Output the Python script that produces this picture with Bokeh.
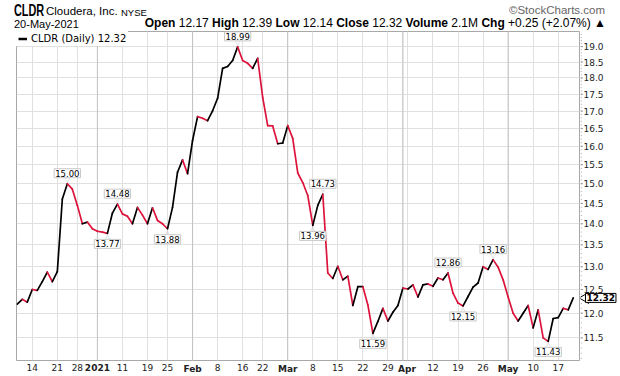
import math
import pandas as pd
from bokeh.plotting import figure
from bokeh.models import (Range1d, FixedTicker, Label, Span, Div, Legend, LegendItem,
                          ColumnDataSource)
from bokeh.layouts import column, row
from bokeh.embed import file_html
from bokeh.resources import INLINE
from bokeh.core.properties import value

# ---------------- data ----------------
holidays = ["2020-12-25", "2021-01-01", "2021-01-18", "2021-02-15", "2021-04-02"]
dates = [d for d in pd.bdate_range("2020-12-09", "2021-05-20")
         if d.strftime("%Y-%m-%d") not in holidays]

close = [12.19, 12.29, 12.23, 12.50, 12.48, 12.67, 12.88, 12.67, 12.89, 14.61,
         15.00, 14.86, 14.45, 14.00, 14.04, 13.88, 13.82, 13.80, 13.77, 14.26,
         14.48, 14.24, 14.18, 14.00, 14.40, 14.21, 14.00, 14.39, 14.08, 14.00,
         13.88, 14.40, 15.30, 15.63, 15.26, 16.16, 16.84, 16.79, 16.72, 17.01,
         17.38, 18.30, 18.36, 18.55, 18.99, 18.55, 18.46, 18.30, 18.62, 17.41,
         16.58, 16.57, 16.07, 16.09, 16.58, 16.22, 15.28, 15.03, 14.70, 13.96,
         14.45, 14.73, 12.86, 12.74, 13.01, 12.71, 12.79, 12.16, 12.56, 12.56,
         12.17, 11.59, 11.83, 12.10, 11.84, 12.02, 12.16, 12.53, 12.51, 12.60,
         12.34, 12.60, 12.62, 12.57, 12.75, 12.71, 12.86, 12.42, 12.21, 12.15,
         12.35, 12.55, 12.64, 13.00, 12.94, 13.16, 12.99, 12.71, 12.34, 12.00,
         11.84, 12.00, 12.16, 11.70, 12.07, 11.50, 11.43, 11.89, 11.91, 12.10,
         12.07, 12.32]

# labelled swing points: (date, above/below)
swing_points = [("2020-12-23", "above"), ("2021-01-06", "below"), ("2021-01-08", "above"),
                ("2021-01-25", "below"), ("2021-02-12", "above"), ("2021-03-08", "below"),
                ("2021-03-10", "above"), ("2021-03-24", "below"), ("2021-04-15", "above"),
                ("2021-04-20", "below"), ("2021-04-28", "above"), ("2021-05-13", "below")]

tick_dates = ["2020-12-14", "2020-12-21", "2020-12-28", "2021-01-04", "2021-01-11",
              "2021-01-19", "2021-01-25", "2021-02-01", "2021-02-08", "2021-02-16",
              "2021-02-22", "2021-03-01", "2021-03-08", "2021-03-15", "2021-03-22",
              "2021-03-29", "2021-04-01", "2021-04-05", "2021-04-12", "2021-04-19",
              "2021-04-26", "2021-05-03", "2021-05-10", "2021-05-17"]
tick_labels = ["14", "21", "28", "2021", "11", "19", "25", "Feb", "8", "16", "22", "Mar",
               "8", "15", "22", "29", "Apr", "", "12", "19", "26", "May", "10", "17"]
month_dates = ["2021-01-04", "2021-02-01", "2021-03-01", "2021-04-01", "2021-05-03"]

y_ticks = [11.5, 12.0, 12.5, 13.0, 13.5, 14.0, 14.5, 15.0, 15.5, 16.0, 16.5, 17.0,
           17.5, 18.0, 18.5, 19.0]

header = {"symbol": "CLDR", "name": "Cloudera, Inc.", "exchange": "NYSE",
          "date": "20-May-2021", "open": "12.17", "high": "12.39", "low": "12.14",
          "volume": "2.1M", "chg": "+0.25 (+2.07%)"}

# ---------------- helpers ----------------
date_str = [d.strftime("%Y-%m-%d") for d in dates]
pos = {s: i for i, s in enumerate(date_str)}
idx = list(range(len(close)))

RED = "#dc143c"
FONT = "DejaVu Sans"
GRID = "#e0e0e0"
MONTH_GRID = "#c2c2c2"
FRAME = "#a8a8a8"

x_range = Range1d(-0.15, 112.25)
y_range = Range1d(11.06, 19.5)

seg = ColumnDataSource(dict(
    x0=idx[:-1], y0=close[:-1], x1=idx[1:], y1=close[1:],
    color=[RED if close[i + 1] < close[i] else "black" for i in range(len(close) - 1)]))

# ---------------- main chart ----------------
p = figure(width=580, height=331, output_backend="svg", toolbar_location=None,
           x_range=x_range, y_range=y_range, y_axis_type="log",
           x_axis_location=None, y_axis_location=None,
           min_border_left=16, min_border_right=1, min_border_top=1, min_border_bottom=1,
           margin=0)
p.outline_line_color = FRAME
p.background_fill_color = "white"
p.border_fill_color = "white"

xt = FixedTicker(ticks=[pos[d] for d in tick_dates], minor_ticks=[])
yt = FixedTicker(ticks=y_ticks, minor_ticks=[])
p.xgrid.ticker = xt
p.ygrid.ticker = yt
p.xgrid.grid_line_color = GRID
p.ygrid.grid_line_color = GRID

for d in month_dates:
    p.add_layout(Span(location=pos[d], dimension="height", line_color=MONTH_GRID,
                      line_width=1, level="underlay"))

p.segment(x0="x0", y0="y0", x1="x1", y1="y1", color="color", line_width=1.7,
          line_cap="round", source=seg)

# legend (key line drawn from a one-point renderer, invisible on the chart)
key = p.line(x=[idx[-1]], y=[close[-1]], color="black", line_width=2.5)
leg = Legend(items=[LegendItem(label=f"{header['symbol']} (Daily) {close[-1]:.2f}",
                               renderers=[key])],
             location="top_left", margin=0, padding=2, spacing=0,
             glyph_width=9, glyph_height=9, label_height=9, label_standoff=4,
             label_text_font=FONT, label_text_font_size="10px", label_text_color="black",
             border_line_alpha=0, background_fill_color="white", background_fill_alpha=1)
p.add_layout(leg)

# swing labels
for d, where in swing_points:
    i = pos[d]
    v = close[i]
    above = where == "above"
    p.text(x=[i], y=[v], text=["▽" if above else "△"],
           text_align="center", text_baseline="bottom" if above else "top",
           text_font=value(FONT), text_font_size="7px", text_color="#bbbbbb")
    p.add_layout(Label(x=i, y=v, text=f"{v:.2f}", text_align="center",
                       text_baseline="bottom" if above else "top",
                       y_offset=6 if above else -6,
                       text_font=FONT, text_font_size="8.5px", text_color="black",
                       background_fill_color="white", border_line_color="#c8c8c8",
                       padding=1))

# ---------------- right price axis (x in pixels from the frame edge) ----------------
pr = figure(width=40, height=331, output_backend="svg", toolbar_location=None,
            x_range=Range1d(0, 40), y_range=y_range, y_axis_type="log",
            x_axis_location=None, y_axis_location=None,
            min_border_left=0, min_border_right=0, min_border_top=1, min_border_bottom=1,
            margin=0)
pr.outline_line_color = None
pr.grid.visible = False
pr.border_fill_color = "white"

minor = [round(11.1 + 0.1 * k, 1) for k in range(84)]
pr.segment(x0=[0] * len(minor), y0=minor, x1=[1.5] * len(minor), y1=minor,
           color="#bbbbbb", line_width=1)
pr.segment(x0=[0] * len(y_ticks), y0=y_ticks, x1=[2.5] * len(y_ticks), y1=y_ticks,
           color="#999999", line_width=1)
pr.text(x=[3] * len(y_ticks), y=y_ticks, text=[f"{t:.1f}" for t in y_ticks],
        text_align="left", text_baseline="middle", text_font=value(FONT),
        text_font_size="9px", text_color="#222222")

last = close[-1]
pr.scatter(x=[5], y=[last], marker="triangle", angle=math.pi / 2, size=11,
           fill_color="white", line_color="black", line_width=1)
pr.text(x=[5], y=[last], text=[f"{last:.2f}"], text_align="left", text_baseline="middle",
        text_font=value(FONT), text_font_size="9px", text_font_style="bold",
        text_color="black", background_fill_color="white", border_line_color="black",
        padding=1)

# ---------------- bottom date axis (y in pixels below the frame) ----------------
pb = figure(width=620, height=15, output_backend="svg", toolbar_location=None,
            x_range=x_range, y_range=Range1d(0, 15),
            x_axis_location=None, y_axis_location=None,
            min_border_left=16, min_border_right=41, min_border_top=0, min_border_bottom=0,
            margin=0)
pb.outline_line_color = None
pb.grid.visible = False
pb.border_fill_color = "white"

day_x = [pos[d] for d, lab in zip(tick_dates, tick_labels) if d not in month_dates]
day_t = [lab for d, lab in zip(tick_dates, tick_labels) if d not in month_dates]
mon_x = [pos[d] for d in month_dates]
mon_t = [lab for d, lab in zip(tick_dates, tick_labels) if d in month_dates]
pb.text(x=day_x, y=[13] * len(day_x), text=day_t, text_align="center", text_baseline="top",
        text_font=value(FONT), text_font_size="9px", text_color="#222222")
pb.text(x=mon_x, y=[13] * len(mon_x), text=mon_t, text_align="center", text_baseline="top",
        x_offset=[4 if t == "Apr" else 0 for t in mon_t],
        text_font=value(FONT), text_font_size="9px", text_font_style="bold",
        text_color="#222222")

# ---------------- header ----------------
html = f"""
<div style="position:relative;width:620px;height:30px;margin:0;padding:0;overflow:hidden;font-family:'Liberation Sans',Arial,sans-serif;color:#000;">
 <span style="position:absolute;left:14px;top:3px;font-weight:bold;font-size:16px;line-height:15px;display:inline-block;transform:scaleX(0.68);transform-origin:left top;">{header['symbol']}</span>
 <span style="position:absolute;left:46px;top:5px;font-size:11.5px;line-height:13px;white-space:nowrap;">{header['name']}</span>
 <span style="position:absolute;left:121px;top:7px;font-size:9.5px;line-height:11px;white-space:nowrap;">{header['exchange']}</span>
 <span style="position:absolute;right:15px;top:4px;font-size:11.5px;line-height:13px;color:#666;white-space:nowrap;">&copy;StockCharts.com</span>
 <span style="position:absolute;left:14px;top:18px;font-size:11px;line-height:12px;white-space:nowrap;">{header['date']}</span>
 <span style="position:absolute;right:14px;top:17px;font-size:12px;line-height:13px;white-space:nowrap;"><b>Open</b> {header['open']} <b>High</b> {header['high']} <b>Low</b> {header['low']} <b>Close</b> {last:.2f} <b>Volume</b> {header['volume']} <b>Chg</b> {header['chg']} &#9650;</span>
</div>
"""
div = Div(text=html, width=620, height=30, margin=0)

layout = column(div, row(p, pr, margin=0, spacing=0), pb, margin=0, spacing=0)
open("out.html", "w").write(file_html(layout, INLINE))
